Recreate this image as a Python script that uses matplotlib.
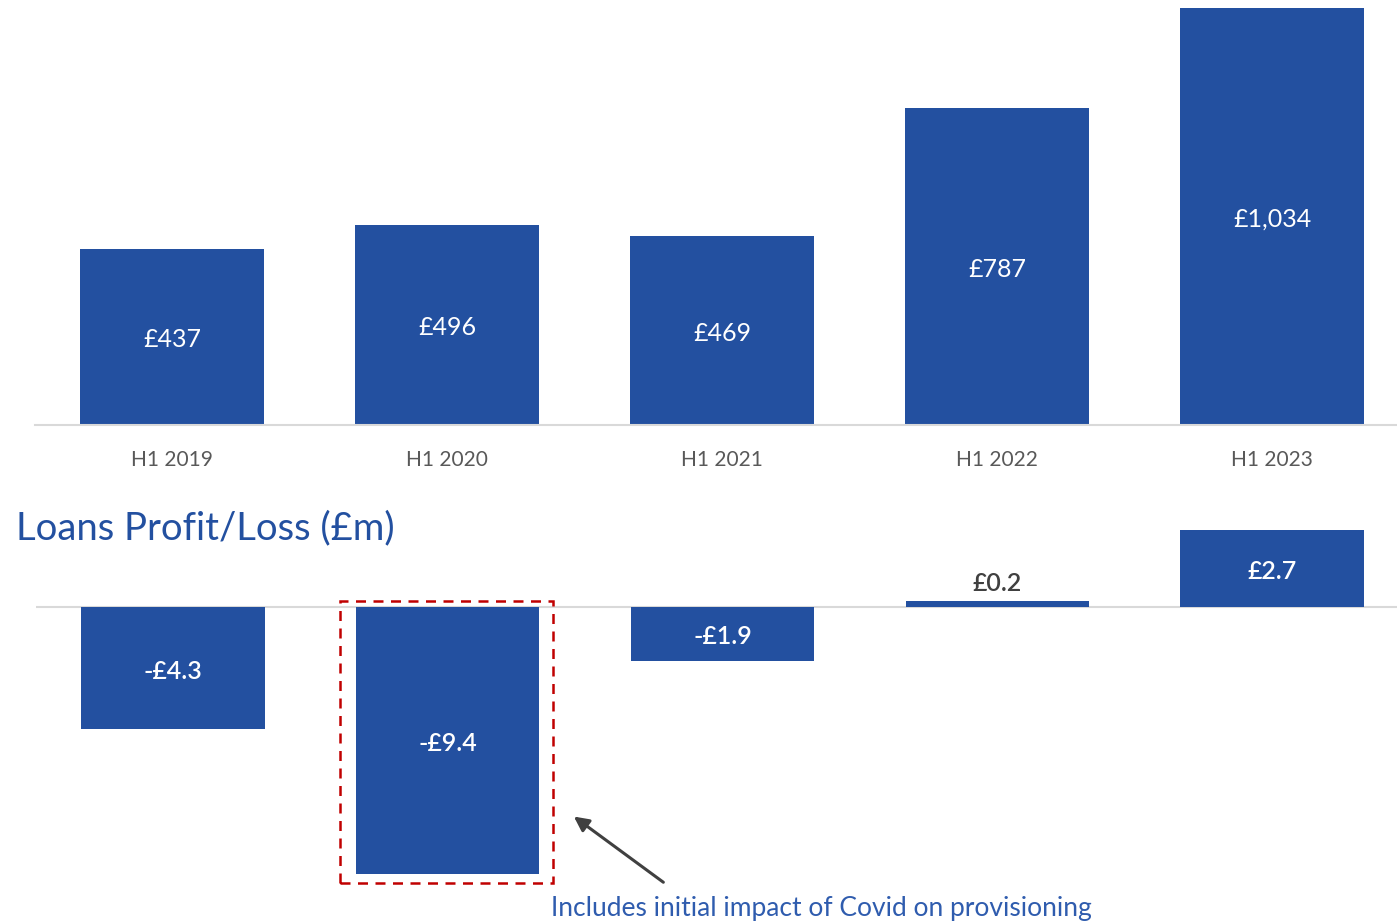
import matplotlib.pyplot as plt
from matplotlib.patches import Rectangle
from matplotlib.transforms import offset_copy

plt.rcParams['font.family'] = ['Lato', 'DejaVu Sans']

periods = ['H1 2019', 'H1 2020', 'H1 2021', 'H1 2022', 'H1 2023']
loan_book = [437, 496, 469, 787, 1034]
loan_book_labels = ['£437', '£496', '£469', '£787', '£1,034']
profit_loss = [-4.3, -9.4, -1.9, 0.2, 2.7]
profit_loss_labels = ['-£4.3', '-£9.4', '-£1.9', '£0.2', '£2.7']

BLUE = '#2350a0'
GRID = '#d9d9d9'
W, H = 1397, 922

fig = plt.figure(figsize=(W / 100, H / 100), dpi=100)

def px_axes(x0, y0, x1, y1):
    return fig.add_axes([x0 / W, 1 - y1 / H, (x1 - x0) / W, (y1 - y0) / H])

x = list(range(len(periods)))
xlim = (-0.498, 4.4545)

# top chart: loan book
ax1 = px_axes(35, 8, 1397, 425)
ax1.bar(x, loan_book, width=0.667, color=BLUE, zorder=2)
ax1.set_xlim(*xlim)
ax1.set_ylim(0, 1034)
down1 = offset_copy(ax1.transData, fig=fig, x=0, y=-3, units='dots')
for i, v in enumerate(loan_book):
    ax1.text(i, v / 2, loan_book_labels[i], ha='center', va='center',
             color='white', fontsize=18, transform=down1)
for s in ['top', 'left', 'right']:
    ax1.spines[s].set_visible(False)
ax1.spines['bottom'].set_color(GRID)
ax1.spines['bottom'].set_linewidth(1.5)
ax1.set_yticks([])
ax1.set_xticks(x)
ax1.set_xticklabels(periods, fontsize=15, color='#595959')
ax1.tick_params(axis='x', length=0, pad=18)

fig.text(16 / W, 1 - 528 / H, 'Loans Profit/Loss (£m)', color=BLUE,
         fontsize=27.5, ha='left', va='center')

# bottom chart: loans profit / loss
ax2 = px_axes(36, 520, 1397, 900)
scale = 28.4
ax2.bar(x, profit_loss, width=0.667, color=BLUE, zorder=2)
ax2.set_xlim(*xlim)
ax2.set_ylim(-(900 - 607) / scale, (607 - 520) / scale)
ax2.axhline(0, color=GRID, linewidth=1.5, zorder=1)
ax2.axis('off')
down2 = offset_copy(ax2.transData, fig=fig, x=0, y=-3, units='dots')
for i, v in enumerate(profit_loss):
    if abs(v) < 1:
        ax2.text(i, v + 0.75, profit_loss_labels[i], ha='center', va='center',
                 color='#404040', fontsize=18, fontweight='semibold',
                 transform=down2)
    else:
        ax2.text(i, v / 2, profit_loss_labels[i], ha='center', va='center',
                 color='white', fontsize=18, fontweight='semibold',
                 transform=down2)

# highlight box around the Covid year
ax2.add_patch(Rectangle((0.607, -9.72), 0.775, 9.93, fill=False,
                        edgecolor='#c00000', linewidth=1.8,
                        linestyle=(0, (4, 3)), zorder=3, clip_on=False))
ax2.annotate('', xy=(1.451, -7.32), xytext=(1.793, -9.75),
             arrowprops=dict(arrowstyle='-|>', color='#404040', lw=2.2,
                             mutation_scale=22),
             annotation_clip=False)
ax2.text(1.375, -10.6, 'Includes initial impact of Covid on provisioning',
         ha='left', va='center', color='#2f5cae', fontsize=19, clip_on=False)

fig.savefig('out.png', dpi=100)
